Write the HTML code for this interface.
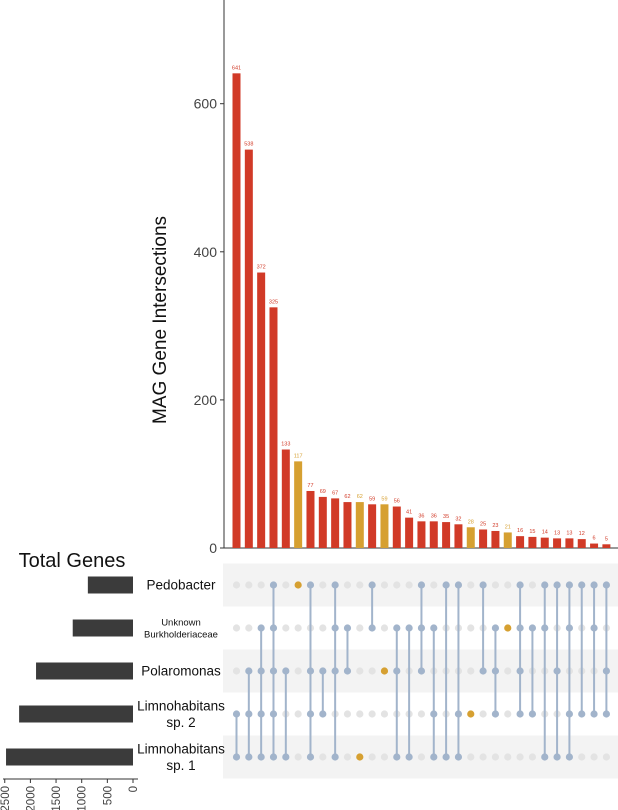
<!DOCTYPE html>
<html><head><meta charset="utf-8"><style>
html,body{margin:0;padding:0;background:#fff;}
svg{display:block;font-family:"Liberation Sans",Arial,sans-serif;}
</style></head><body>
<svg id="chart" width="618" height="810" viewBox="0 0 618 810" xmlns="http://www.w3.org/2000/svg"></svg>
<script>
const setNames = ["Pedobacter", "Unknown Burkholderiaceae", "Polaromonas", "Limnohabitans sp. 2", "Limnohabitans sp. 1"];
const setTotals = [880, 1175, 1890, 2220, 2475];
const totalTicks = [0, 500, 1000, 1500, 2000, 2500];
const intersectionValues = [641,538,372,325,133,117,77,69,67,62,62,59,59,56,41,36,36,35,32,28,25,23,21,16,15,14,13,13,12,6,5];
const uniqueFlags = [0,0,0,0,0,1,0,0,0,0,1,0,1,0,0,0,0,0,0,1,0,0,1,0,0,0,0,0,0,0,0];
const memberships = [[3,4],[2,3,4],[1,2,3,4],[0,1,2,3,4],[2,4],[0],[0,2,3,4],[2,3],[0,1,2,4],[1,2],[4],[0,1],[2],[1,2,4],[1,4],[0,1,2],[1,3,4],[0,4],[0,3,4],[3],[0,2],[1,2,3],[1],[0,1,2,3],[1,3],[0,1,4],[0,2,4],[0,1,3,4],[0,3],[0,1,3],[0,2,3]];
const yTicks = [0, 200, 400, 600];

const NS = "http://www.w3.org/2000/svg";
const svg = document.getElementById('chart');
function mk(tag, attrs, parent){const e=document.createElementNS(NS,tag);for(const k in attrs)e.setAttribute(k,attrs[k]);(parent||svg).appendChild(e);return e;}
const RED="#d13a27", GOLD="#d6a031", BLUE="#a2b4cb", GRAY="#e3e3e3";
const x0=236.5, dx=12.33;
const colX = i => x0 + i*dx;
const yBar = v => 548 - v*0.7405;
const rowY = r => 585 + r*43;
const xTot = v => 133 - v*0.0513;

for (let r=0;r<5;r+=2){
  const s=mk('rect',{x:223,y:rowY(r)-21.5,width:395,height:43,fill:"#f3f3f3"});
  
  
}
let ax=mk('line',{x1:224,y1:0,x2:224,y2:548,stroke:"#333","stroke-width":1});


let bx=mk('line',{x1:224,y1:548,x2:618,y2:548,stroke:"#333","stroke-width":1});


yTicks.forEach(t=>{
  const y=yBar(t);
  const l=mk('line',{x1:220,y1:y,x2:224,y2:y,stroke:"#333"});
  
  
  const tx=mk('text',{x:217,y:y+5,"text-anchor":"end","font-size":14,fill:"#444"});
  tx.textContent=t;
  
  
});
const yt=mk('text',{x:0,y:0,transform:"translate(166,320) rotate(-90)","text-anchor":"middle","font-size":19,fill:"#111"});
yt.textContent="MAG Gene Intersections";



intersectionValues.forEach((v,i)=>{
  const c=uniqueFlags[i]?GOLD:RED;
  const b=mk('rect',{x:colX(i)-4,y:yBar(v),width:8,height:548-yBar(v),fill:c});
  
  
  const t=mk('text',{x:colX(i),y:yBar(v)-4,"text-anchor":"middle","font-size":5.5,fill:c});
  t.textContent=v;
  
  
  const m=memberships[i];
  for(let r=0;r<5;r++){
    if(m.includes(r)) continue;
    const d=mk('circle',{cx:colX(i),cy:rowY(r),r:3.6,fill:GRAY});
    
    
  }
  const mn=Math.min(...m), mxr=Math.max(...m);
  if(m.length>1){
    const ln=mk('line',{x1:colX(i),y1:rowY(mn),x2:colX(i),y2:rowY(mxr),stroke:BLUE,"stroke-width":2});
    
    
  }
  m.forEach(r=>{
    const d=mk('circle',{cx:colX(i),cy:rowY(r),r:3.6,fill:m.length===1?GOLD:BLUE});
    
    
  });
});

const labelDefs=[[["Pedobacter"],13.5],[["Unknown","Burkholderiaceae"],9.5],[["Polaromonas"],13.5],[["Limnohabitans","sp. 2"],13.5],[["Limnohabitans","sp. 1"],13.5]];
labelDefs.forEach((d,r)=>{
  const lines=d[0], fs=d[1], lh=fs*1.25;
  const start=rowY(r)-(lines.length-1)*lh/2+fs*0.35;
  lines.forEach((s,k)=>{
    const t=mk('text',{x:181,y:start+k*lh,"text-anchor":"middle","font-size":fs,fill:"#111"});
    t.textContent=s;
    
    
  });
});
const tt=mk('text',{x:72,y:567,"text-anchor":"middle","font-size":20,fill:"#111"});
tt.textContent="Total Genes";


setTotals.forEach((v,r)=>{
  const b=mk('rect',{x:xTot(v),y:rowY(r)-8.5,width:133-xTot(v),height:17,fill:"#3b3b3b"});
  
  
});
let tl=mk('line',{x1:3,y1:779,x2:138,y2:779,stroke:"#333"});


totalTicks.forEach(t=>{
  const x=xTot(t);
  const l=mk('line',{x1:x,y1:779,x2:x,y2:783,stroke:"#333"});
  
  
  const tx=mk('text',{x:0,y:0,transform:`translate(${x+4},786) rotate(-90)`,"text-anchor":"end","font-size":11.5,fill:"#444"});
  tx.textContent=t;
  
  
});
</script>
</body></html>
